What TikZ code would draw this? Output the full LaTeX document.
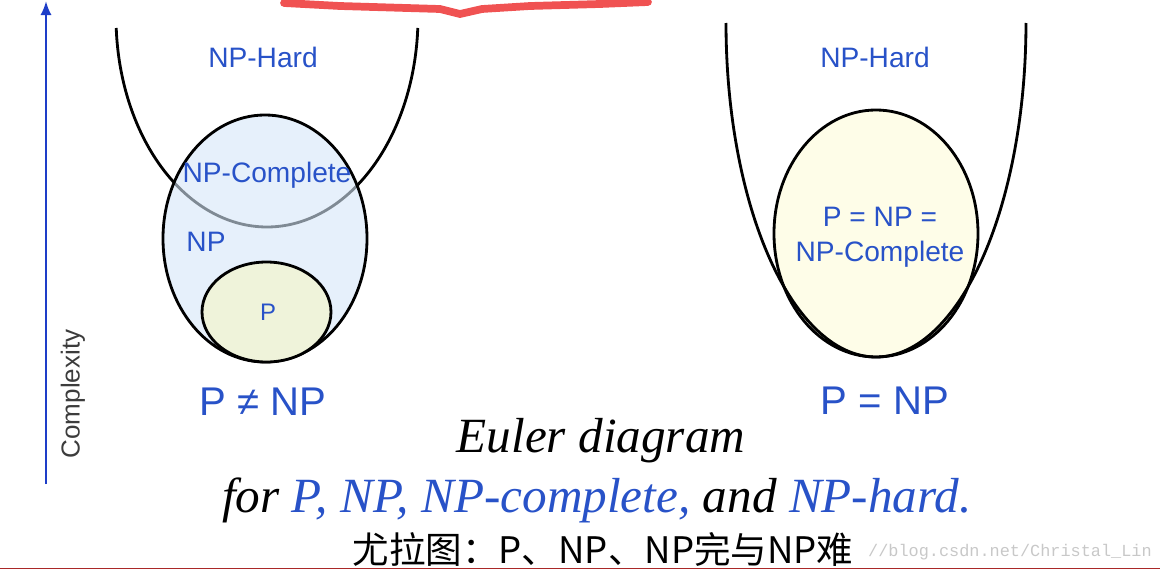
\documentclass[tikz,border=0pt]{standalone}
\usepackage{fontspec}
\setmainfont{Liberation Serif}
\setsansfont{Liberation Sans}
\setmonofont{Liberation Mono}
\newfontfamily\cjk{Noto Sans CJK SC}
\usepackage{tikz}
\usetikzlibrary{arrows.meta}
\definecolor{labelBlue}{RGB}{40,82,200}
\definecolor{axisBlue}{RGB}{30,62,200}
\definecolor{npFill}{RGB}{213,230,248}
\definecolor{pFill}{RGB}{239,243,218}
\definecolor{eqFill}{RGB}{254,253,232}
\definecolor{scribbleRed}{RGB}{240,82,82}
\definecolor{edgeRed}{RGB}{170,40,40}
\definecolor{markGray}{RGB}{200,200,200}
\definecolor{axisText}{RGB}{60,60,60}

\begin{document}
\begin{tikzpicture}[
  x=0.025cm, y=-0.025cm,
  curve/.style={draw=black, line width=2pt},
  setlabel/.style={font=\sffamily\fontsize{20}{25}\selectfont, text=labelBlue, inner sep=0pt, align=center},
  verdict/.style={font=\sffamily\fontsize{28.5}{32}\selectfont, text=labelBlue, inner sep=0pt},
  caption/.style={font=\itshape\fontsize{35}{40}\selectfont, inner sep=0pt, anchor=base},
  axis/.style={-{Latex[length=10pt,width=8pt]}, line width=1.7pt, draw=axisBlue}
]
\useasboundingbox (0,0) rectangle (1160,572);

% ------------------------------------------------------------------
% annotation marks
% ------------------------------------------------------------------
\draw[scribbleRed, line width=5.5pt, line cap=round, line join=round]
  (284,3) -- (340,6) -- (440,9) -- (460,14) -- (482,9) -- (530,6) -- (600,4) -- (648,2);
\draw[edgeRed, line width=1pt] (0,568.5) -- (1160,568.5);

% ------------------------------------------------------------------
% complexity axis
% ------------------------------------------------------------------
\coordinate (axbot) at (46,484);
\coordinate (axtop) at (46,1);
\draw[axis] (axbot) -- (axtop);
\node[font=\sffamily\fontsize{18.5}{20}\selectfont, text=axisText, rotate=90, inner sep=0pt] (cplx) at (73,394) {Complexity};

% ------------------------------------------------------------------
% left: P != NP
% ------------------------------------------------------------------
\draw[curve] plot[domain=177:3, samples=80, smooth] ({267+151*cos(\x)}, {17+210*sin(\x)});
\fill[npFill, fill opacity=0.6] (265,238.5) ellipse [x radius=102, y radius=123.5];
\draw[curve] (265,238.5) ellipse [x radius=102, y radius=123.5];
\draw[curve, fill=pFill] (266.5,312) ellipse [x radius=64.5, y radius=50];

\node[setlabel] (hardL) at (263,57) {NP-Hard};
\node[setlabel] (compL) at (267,175) {NP-Complete};
\node[setlabel] (npL) at (206,242) {NP};
\node[setlabel, font=\sffamily\fontsize{17}{20}\selectfont] (pL) at (268,312) {P};
\node[verdict] (neqL) at (263,402) {P ≠ NP};

% ------------------------------------------------------------------
% right: P = NP
% ------------------------------------------------------------------
\fill[eqFill] (876,233.5) ellipse [x radius=102, y radius=123.5];
\draw[curve] (876,233.5) ellipse [x radius=102, y radius=123.5];
\draw[curve] plot[domain=180:0, samples=80, smooth] ({876+150*cos(\x)}, {23+334*sin(\x)});

\node[setlabel] (hardR) at (875,57) {NP-Hard};
\node[setlabel] (allR) at (880,237) {P = NP =\\NP-Complete};
\node[verdict] (eqR) at (885,401) {P = NP};

% ------------------------------------------------------------------
% caption
% ------------------------------------------------------------------
\node[caption] (euler) at (601,452) {Euler diagram};
\node[caption] (forline) at (597,512) {for \textcolor{labelBlue}{P, NP, NP-complete,} and \textcolor{labelBlue}{NP-hard.}};
\node[font=\cjk\fontsize{26}{28}\selectfont, inner sep=0pt, anchor=base] (zh) at (603,563) {尤拉图：P、NP、NP完与NP难};
\node[font=\ttfamily\fontsize{12}{14}\selectfont, text=markGray, inner sep=0pt, anchor=base] (mark) at (1010,556) {//blog.csdn.net/Christal\_Lin};

\end{tikzpicture}
\end{document}
